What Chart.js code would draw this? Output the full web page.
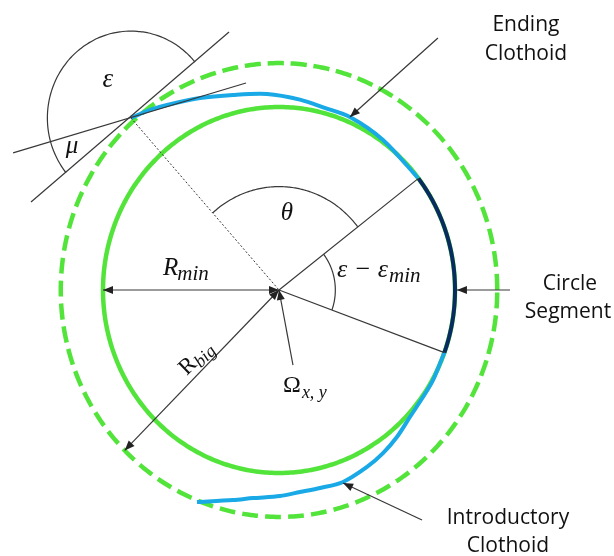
<!DOCTYPE html>
<html>
<head>
<meta charset="utf-8">
<script src="https://cdn.jsdelivr.net/npm/chart.js@4.4.0/dist/chart.umd.min.js"></script>
<style>
  html, body { margin: 0; padding: 0; background: #fff; }
  canvas { display: block; }
</style>
</head>
<body>
<canvas id="diagram" width="614" height="556"></canvas>
<script>
// geometry in units of R_min, circle centre at the origin
const rMin = 1.0;
const rBig = 1.24;
const segmentAngles = [-20, 37.6];        // circle segment (degrees)
const tangentPoint = [-0.841, 0.940];     // start of the ending clothoid

// clothoids
const endingX = [-0.841, -0.733, -0.636, -0.449, -0.261, -0.068, 0.119, 0.260, 0.403, 0.591, 0.790];
const endingY = [0.940, 0.984, 1.011, 1.049, 1.066, 1.071, 1.040, 0.995, 0.945, 0.820, 0.612];
const introX = [0.940, 0.875, 0.818, 0.744, 0.670, 0.591, 0.500, 0.364, 0.233, 0.119, 0.006, -0.148, -0.261, -0.466];
const introY = [-0.342, -0.492, -0.585, -0.694, -0.803, -0.891, -0.967, -1.049, -1.082, -1.104, -1.126, -1.137, -1.148, -1.158];

// straight construction lines
const tangentLineX = [-1.409, -0.284];
const tangentLineY = [0.481, 1.410];
const headingLineX = [-1.511, -0.1875];
const headingLineY = [0.749, 1.131];

// angle arcs: radius, from, to (degrees)
const epsArc = [0.475, 40, 219];
const thetaArc = [0.565, 37.6, 131.8];
const epsMinArc = [0.32, -20, 37.6];

const rBigAngle = 225;

const arrows = [
  // from, to, double headed
  { from: [-rMin, 0], to: [0, 0], both: true },
  { from: [0, 0], to: [rBig * Math.cos(rBigAngle * Math.PI / 180), rBig * Math.sin(rBigAngle * Math.PI / 180)], both: true },
  { from: [0.0795, -0.41], to: [0, 0] },
  { from: [0.903, 1.377], to: [0.403, 0.945] },
  { from: [1.3125, 0], to: [1.011, 0] },
  { from: [0.8125, -1.257], to: [0.364, -1.055] },
];

const green = '#52e43a';
const lightBlue = '#19a9e6';
const navy = '#0a2a62';
const ink = '#383838';

function arc(cx, cy, r, a0, a1, n) {
  const pts = [];
  for (let i = 0; i <= n; i++) {
    const a = (a0 + (a1 - a0) * i / n) * Math.PI / 180;
    pts.push({ x: cx + r * Math.cos(a), y: cy + r * Math.sin(a) });
  }
  return pts;
}
function zipPts(xs, ys) { return xs.map((x, i) => ({ x: x, y: ys[i] })); }
function seg(p, q) { return [{ x: p[0], y: p[1] }, { x: q[0], y: q[1] }]; }
function onCircle(r, deg) {
  return [r * Math.cos(deg * Math.PI / 180), r * Math.sin(deg * Math.PI / 180)];
}

function thin(data, extra) {
  return Object.assign({ data: data, borderColor: ink, borderWidth: 1.2, showLine: true, pointRadius: 0, tension: 0, order: 1 }, extra || {});
}

const datasets = [
  { data: arc(0, 0, rMin, 0, 360, 240), borderColor: green, borderWidth: 4.5, showLine: true, pointRadius: 0, tension: 0.2, order: 10 },
  { data: arc(0, 0, rBig, 0, 360, 240), borderColor: green, borderWidth: 4.5, borderDash: [16, 7], showLine: true, pointRadius: 0, tension: 0.2, order: 9 },
  { data: zipPts(endingX, endingY), borderColor: lightBlue, borderWidth: 4, showLine: true, pointRadius: 0, tension: 0.3, order: 5 },
  { data: zipPts(introX, introY), borderColor: lightBlue, borderWidth: 4, showLine: true, pointRadius: 0, tension: 0.3, order: 5 },
  { data: arc(0, 0, rMin, segmentAngles[0], segmentAngles[1], 60), borderColor: navy, borderWidth: 4, showLine: true, pointRadius: 0, tension: 0.2, order: 4 },
  thin(seg(tangentPoint, [0, 0]), { borderDash: [2, 2], borderWidth: 1 }),
  thin(seg([0, 0], onCircle(rMin, segmentAngles[1]))),
  thin(seg([0, 0], onCircle(rMin, segmentAngles[0]))),
  thin(zipPts(tangentLineX, tangentLineY)),
  thin(zipPts(headingLineX, headingLineY)),
  thin(arc(tangentPoint[0], tangentPoint[1], epsArc[0], epsArc[1], epsArc[2], 90), { tension: 0.2 }),
  thin(arc(0, 0, thetaArc[0], thetaArc[1], thetaArc[2], 60), { tension: 0.2 }),
  thin(arc(0, 0, epsMinArc[0], epsMinArc[1], epsMinArc[2], 40), { tension: 0.2 }),
].concat(arrows.map(a => thin(seg(a.from, a.to))));

const serif = '"Liberation Serif", "DejaVu Serif", serif';
const sans = '"Open Sans", "Liberation Sans", sans-serif';

const annotate = {
  id: 'annotate',
  afterDatasetsDraw(chart) {
    const ctx = chart.ctx;
    const sx = chart.scales.x, sy = chart.scales.y;
    const P = (u, v) => [sx.getPixelForValue(u), sy.getPixelForValue(v)];

    // arrow heads
    ctx.save();
    ctx.fillStyle = '#222';
    function head(f, t) {
      const [fx, fy] = P(f[0], f[1]);
      const [tx, ty] = P(t[0], t[1]);
      const a = Math.atan2(ty - fy, tx - fx);
      const L = 10, W = 4;
      ctx.beginPath();
      ctx.moveTo(tx, ty);
      ctx.lineTo(tx - L * Math.cos(a) + W * Math.sin(a), ty - L * Math.sin(a) - W * Math.cos(a));
      ctx.lineTo(tx - L * Math.cos(a) - W * Math.sin(a), ty - L * Math.sin(a) + W * Math.cos(a));
      ctx.closePath();
      ctx.fill();
    }
    arrows.forEach(a => {
      head(a.from, a.to);
      if (a.both) head(a.to, a.from);
    });
    ctx.restore();

    // text
    ctx.save();
    ctx.fillStyle = '#111';
    ctx.textBaseline = 'alphabetic';
    function txt(s, px, py, font, align) {
      ctx.font = font;
      ctx.textAlign = align || 'left';
      ctx.fillText(s, px, py);
      return ctx.measureText(s).width;
    }
    // plain labels
    let p;
    p = P(1.403, 1.413); txt('Ending', p[0], p[1], '21px ' + sans, 'center');
    p = P(1.403, 1.257); txt('Clothoid', p[0], p[1], '21px ' + sans, 'center');
    p = P(1.653, 0.0); txt('Circle', p[0], p[1], '21px ' + sans, 'center');
    p = P(1.642, -0.153); txt('Segment', p[0], p[1], '21px ' + sans, 'center');
    p = P(1.301, -1.279); txt('Introductory', p[0], p[1], '21px ' + sans, 'center');
    p = P(1.301, -1.432); txt('Clothoid', p[0], p[1], '21px ' + sans, 'center');

    // math labels
    p = P(-0.972, 1.109); txt('\u03b5', p[0], p[1], 'italic 27px ' + serif, 'center');
    p = P(-1.176, 0.749); txt('\u03bc', p[0], p[1], 'italic 25px ' + serif, 'center');
    p = P(0.045, 0.383); txt('\u03b8', p[0], p[1], 'italic 25px ' + serif, 'center');

    p = P(0.33, 0.071);
    let w = txt('\u03b5 \u2212 \u03b5', p[0], p[1], 'italic 26px ' + serif);
    txt('min', p[0] + w + 1, p[1] + 5, 'italic 21px ' + serif);

    p = P(-0.659, 0.082);
    w = txt('R', p[0], p[1], 'italic 25px ' + serif);
    txt('min', p[0] + w - 1, p[1] + 5, 'italic 21px ' + serif);

    p = P(0.023, -0.557);
    w = txt('\u03a9', p[0], p[1], '24px ' + serif);
    txt('x, y', p[0] + w + 1, p[1] + 6, 'italic 18px ' + serif);

    p = P(-0.477, -0.366);
    ctx.translate(p[0], p[1]);
    ctx.rotate(-44 * Math.PI / 180);
    ctx.font = '23px ' + serif;
    const wR = ctx.measureText('R').width;
    ctx.font = 'italic 18px ' + serif;
    const wB = ctx.measureText('big').width;
    const x0 = -(wR + wB) / 2;
    txt('R', x0, 8, '23px ' + serif);
    txt('big', x0 + wR, 12, 'italic 18px ' + serif);
    ctx.restore();
  }
};

new Chart(document.getElementById('diagram'), {
  type: 'scatter',
  data: { datasets: datasets },
  options: {
    responsive: false,
    animation: false,
    layout: { padding: 0 },
    plugins: { legend: { display: false }, tooltip: { enabled: false } },
    scales: {
      x: { type: 'linear', display: false, min: -279 / 176, max: 335 / 176 },
      y: { type: 'linear', display: false, min: -266 / 183, max: 290 / 183 },
    },
  },
  plugins: [annotate],
});
</script>
</body>
</html>
